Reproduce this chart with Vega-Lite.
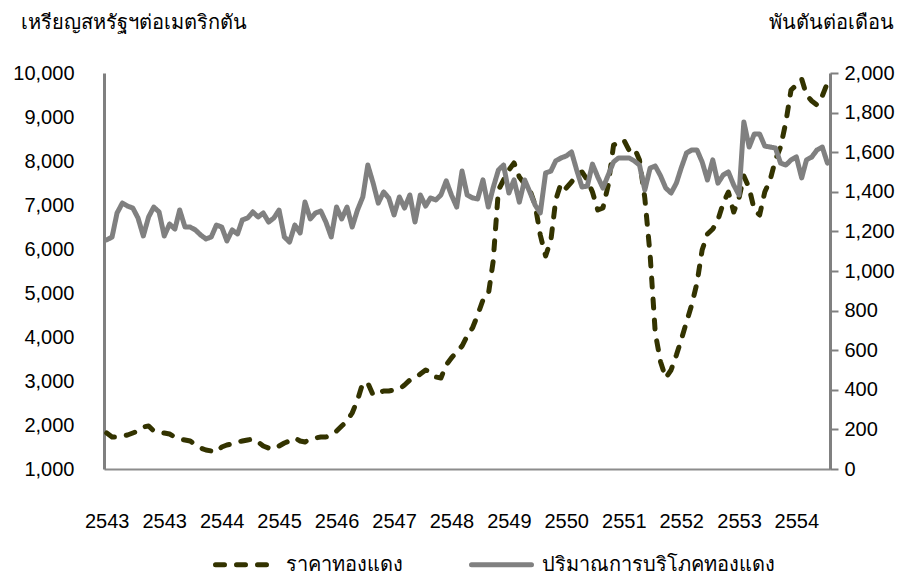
{
  "$schema": "https://vega.github.io/schema/vega-lite/v6.json",
  "width": 726,
  "height": 396,
  "autosize": {"type": "none"},
  "padding": {"left": 104, "top": 73, "right": 83, "bottom": 107},
  "background": "white",
  "config": {
    "view": {"stroke": null},
    "font": "Liberation Sans",
    "axis": {"grid": false, "labelColor": "#000000", "titleColor": "#000000", "labelFont": "Liberation Sans", "titleFont": "Liberation Sans", "titleFontWeight": "normal"}
  },
  "data": {
    "format": {"parse": {"d": "date:'%Y-%m'"}},
    "values": [
      {"d":"2000-01","price":1818,"cons":1157},{"d":"2000-02","price":1727,"cons":1172},{"d":"2000-03","price":1727,"cons":1293},{"d":"2000-04","price":1750,"cons":1343},{"d":"2000-05","price":1773,"cons":1328},{"d":"2000-06","price":1818,"cons":1318},{"d":"2000-07","price":1864,"cons":1268},{"d":"2000-08","price":1955,"cons":1177},{"d":"2000-09","price":1977,"cons":1273},{"d":"2000-10","price":1864,"cons":1323},{"d":"2000-11","price":1841,"cons":1298},{"d":"2000-12","price":1818,"cons":1177},
      {"d":"2001-01","price":1795,"cons":1237},{"d":"2001-02","price":1727,"cons":1212},{"d":"2001-03","price":1682,"cons":1308},{"d":"2001-04","price":1659,"cons":1222},{"d":"2001-05","price":1636,"cons":1222},{"d":"2001-06","price":1545,"cons":1207},{"d":"2001-07","price":1477,"cons":1182},{"d":"2001-08","price":1432,"cons":1162},{"d":"2001-09","price":1409,"cons":1172},{"d":"2001-10","price":1386,"cons":1232},{"d":"2001-11","price":1500,"cons":1222},{"d":"2001-12","price":1545,"cons":1152},
      {"d":"2002-01","price":1568,"cons":1207},{"d":"2002-02","price":1614,"cons":1187},{"d":"2002-03","price":1636,"cons":1258},{"d":"2002-04","price":1659,"cons":1268},{"d":"2002-05","price":1682,"cons":1298},{"d":"2002-06","price":1614,"cons":1273},{"d":"2002-07","price":1523,"cons":1293},{"d":"2002-08","price":1477,"cons":1247},{"d":"2002-09","price":1455,"cons":1268},{"d":"2002-10","price":1523,"cons":1308},{"d":"2002-11","price":1591,"cons":1172},{"d":"2002-12","price":1636,"cons":1146},
      {"d":"2003-01","price":1705,"cons":1232},{"d":"2003-02","price":1636,"cons":1192},{"d":"2003-03","price":1614,"cons":1348},{"d":"2003-04","price":1682,"cons":1263},{"d":"2003-05","price":1705,"cons":1293},{"d":"2003-06","price":1727,"cons":1303},{"d":"2003-07","price":1727,"cons":1247},{"d":"2003-08","price":1773,"cons":1172},{"d":"2003-09","price":1864,"cons":1323},{"d":"2003-10","price":1977,"cons":1263},{"d":"2003-11","price":2091,"cons":1323},{"d":"2003-12","price":2273,"cons":1222},
      {"d":"2004-01","price":2568,"cons":1308},{"d":"2004-02","price":2955,"cons":1374},{"d":"2004-03","price":2955,"cons":1535},{"d":"2004-04","price":2682,"cons":1444},{"d":"2004-05","price":2727,"cons":1343},{"d":"2004-06","price":2773,"cons":1399},{"d":"2004-07","price":2773,"cons":1369},{"d":"2004-08","price":2795,"cons":1283},{"d":"2004-09","price":2818,"cons":1374},{"d":"2004-10","price":2909,"cons":1318},{"d":"2004-11","price":3023,"cons":1384},{"d":"2004-12","price":3068,"cons":1247},
      {"d":"2005-01","price":3159,"cons":1384},{"d":"2005-02","price":3250,"cons":1328},{"d":"2005-03","price":3205,"cons":1369},{"d":"2005-04","price":3091,"cons":1359},{"d":"2005-05","price":3068,"cons":1384},{"d":"2005-06","price":3364,"cons":1455},{"d":"2005-07","price":3523,"cons":1384},{"d":"2005-08","price":3659,"cons":1323},{"d":"2005-09","price":3795,"cons":1505},{"d":"2005-10","price":4023,"cons":1384},{"d":"2005-11","price":4205,"cons":1369},{"d":"2005-12","price":4500,"cons":1364},
      {"d":"2006-01","price":4841,"cons":1460},{"d":"2006-02","price":4955,"cons":1323},{"d":"2006-03","price":5705,"cons":1419},{"d":"2006-04","price":7341,"cons":1510},{"d":"2006-05","price":7568,"cons":1535},{"d":"2006-06","price":7795,"cons":1394},{"d":"2006-07","price":7955,"cons":1460},{"d":"2006-08","price":7636,"cons":1348},{"d":"2006-09","price":7477,"cons":1460},{"d":"2006-10","price":7341,"cons":1399},{"d":"2006-11","price":7000,"cons":1333},{"d":"2006-12","price":6318,"cons":1293},
      {"d":"2007-01","price":5841,"cons":1495},{"d":"2007-02","price":6205,"cons":1505},{"d":"2007-03","price":7114,"cons":1556},{"d":"2007-04","price":7500,"cons":1571},{"d":"2007-05","price":7386,"cons":1581},{"d":"2007-06","price":7523,"cons":1601},{"d":"2007-07","price":7682,"cons":1510},{"d":"2007-08","price":7750,"cons":1424},{"d":"2007-09","price":7568,"cons":1429},{"d":"2007-10","price":7295,"cons":1540},{"d":"2007-11","price":6886,"cons":1475},{"d":"2007-12","price":6932,"cons":1419},
      {"d":"2008-01","price":7455,"cons":1485},{"d":"2008-02","price":8364,"cons":1551},{"d":"2008-03","price":8409,"cons":1571},{"d":"2008-04","price":8477,"cons":1571},{"d":"2008-05","price":8250,"cons":1571},{"d":"2008-06","price":8295,"cons":1556},{"d":"2008-07","price":8023,"cons":1535},{"d":"2008-08","price":7159,"cons":1409},{"d":"2008-09","price":5864,"cons":1520},{"d":"2008-10","price":4091,"cons":1530},{"d":"2008-11","price":3432,"cons":1480},{"d":"2008-12","price":3068,"cons":1419},
      {"d":"2009-01","price":3250,"cons":1394},{"d":"2009-02","price":3591,"cons":1444},{"d":"2009-03","price":3932,"cons":1520},{"d":"2009-04","price":4341,"cons":1596},{"d":"2009-05","price":4727,"cons":1611},{"d":"2009-06","price":5227,"cons":1611},{"d":"2009-07","price":5977,"cons":1551},{"d":"2009-08","price":6341,"cons":1460},{"d":"2009-09","price":6455,"cons":1561},{"d":"2009-10","price":6659,"cons":1444},{"d":"2009-11","price":7045,"cons":1485},{"d":"2009-12","price":7295,"cons":1500},
      {"d":"2010-01","price":6841,"cons":1434},{"d":"2010-02","price":7159,"cons":1384},{"d":"2010-03","price":7659,"cons":1753},{"d":"2010-04","price":7386,"cons":1626},{"d":"2010-05","price":6886,"cons":1692},{"d":"2010-06","price":6773,"cons":1692},{"d":"2010-07","price":7295,"cons":1631},{"d":"2010-08","price":7568,"cons":1626},{"d":"2010-09","price":8023,"cons":1621},{"d":"2010-10","price":8318,"cons":1545},{"d":"2010-11","price":8886,"cons":1535},{"d":"2010-12","price":9614,"cons":1561},
      {"d":"2011-01","price":9727,"cons":1576},{"d":"2011-02","price":9864,"cons":1470},{"d":"2011-03","price":9500,"cons":1561},{"d":"2011-04","price":9364,"cons":1576},{"d":"2011-05","price":9273,"cons":1611},{"d":"2011-06","price":9477,"cons":1626},{"d":"2011-07","price":9773,"cons":1545}
    ]
  },
  "encoding": {
    "x": {
      "field": "d", "type": "temporal",
      "scale": {"domain": [{"year": 1999, "month": 12, "date": 16}, {"year": 2011, "month": 7, "date": 16}]},
      "axis": {
        "title": null,
        "values": [{"year":2000,"month":1},{"year":2000,"month":12},{"year":2001,"month":11},{"year":2002,"month":10},{"year":2003,"month":9},{"year":2004,"month":8},{"year":2005,"month":7},{"year":2006,"month":6},{"year":2007,"month":5},{"year":2008,"month":4},{"year":2009,"month":3},{"year":2010,"month":2},{"year":2011,"month":1}],
        "labelExpr": "'' + (toNumber(timeFormat(datum.value, '%Y')) + 543)",
        "ticks": false,
        "domainColor": "#8c8c8c",
        "domainWidth": 2,
        "labelFontSize": 20,
        "labelPadding": 42,
        "labelOverlap": false,
        "labelFlush": false
      }
    },
    "color": {
      "field": "series", "type": "nominal",
      "scale": {"domain": ["price", "cons"], "range": ["#333300", "#808080"]},
      "legend": {
        "title": null,
        "orient": "none",
        "legendX": 109,
        "legendY": 459,
        "direction": "horizontal",
        "symbolType": "stroke",
        "symbolSize": 3600,
        "symbolStrokeWidth": 5,
        "labelFontSize": 20,
        "labelFont": "Liberation Sans",
        "labelColor": "#000000",
        "labelOffset": 8,
        "columnPadding": 58,
        "labelLimit": 400,
        "labelExpr": "datum.label == 'price' ? 'ราคาทองแดง' : 'ปริมาณการบริโภคทองแดง'",
        "encode": {"symbols": {"update": {"strokeCap": {"value": "round"}}}}
      }
    },
    "strokeDash": {
      "field": "series", "type": "nominal",
      "scale": {"domain": ["price", "cons"], "range": [[9, 12], [1, 0]]},
      "legend": null
    }
  },
  "layer": [
    {
      "transform": [{"fold": ["price"], "as": ["series", "value"]}],
      "mark": {"type": "line", "strokeWidth": 5, "strokeCap": "round", "strokeJoin": "round"},
      "encoding": {
        "y": {
          "field": "value", "type": "quantitative",
          "scale": {"domain": [1000, 10000], "nice": false, "zero": false},
          "axis": {
            "orient": "left",
            "values": [1000,2000,3000,4000,5000,6000,7000,8000,9000,10000],
            "format": ",.0f",
            "ticks": false,
            "domainColor": "#808080",
            "domainWidth": 3,
            "labelFontSize": 20,
            "labelPadding": 30,
            "title": "เหรียญสหรัฐฯต่อเมตริกตัน",
            "titleAngle": 0,
            "titleFontSize": 20,
            "titleAlign": "left",
            "titleBaseline": "middle",
            "titleX": -84,
            "titleY": -51
          }
        }
      }
    },
    {
      "transform": [{"fold": ["cons"], "as": ["series", "value"]}],
      "mark": {"type": "line", "strokeWidth": 5, "strokeCap": "round", "strokeJoin": "round"},
      "encoding": {
        "y": {
          "field": "value", "type": "quantitative",
          "scale": {"domain": [0, 2000], "nice": false},
          "axis": {
            "orient": "right",
            "values": [0,200,400,600,800,1000,1200,1400,1600,1800,2000],
            "format": ",.0f",
            "ticks": true,
            "tickSize": 8,
            "tickWidth": 2,
            "tickColor": "#808080",
            "domainColor": "#808080",
            "domainWidth": 3,
            "labelFontSize": 20,
            "labelPadding": 6,
            "title": "พันตันต่อเดือน",
            "titleAngle": 0,
            "titleFontSize": 20,
            "titleAlign": "right",
            "titleBaseline": "middle",
            "titleX": 63,
            "titleY": -51
          }
        }
      }
    }
  ],
  "resolve": {"scale": {"y": "independent"}}
}
